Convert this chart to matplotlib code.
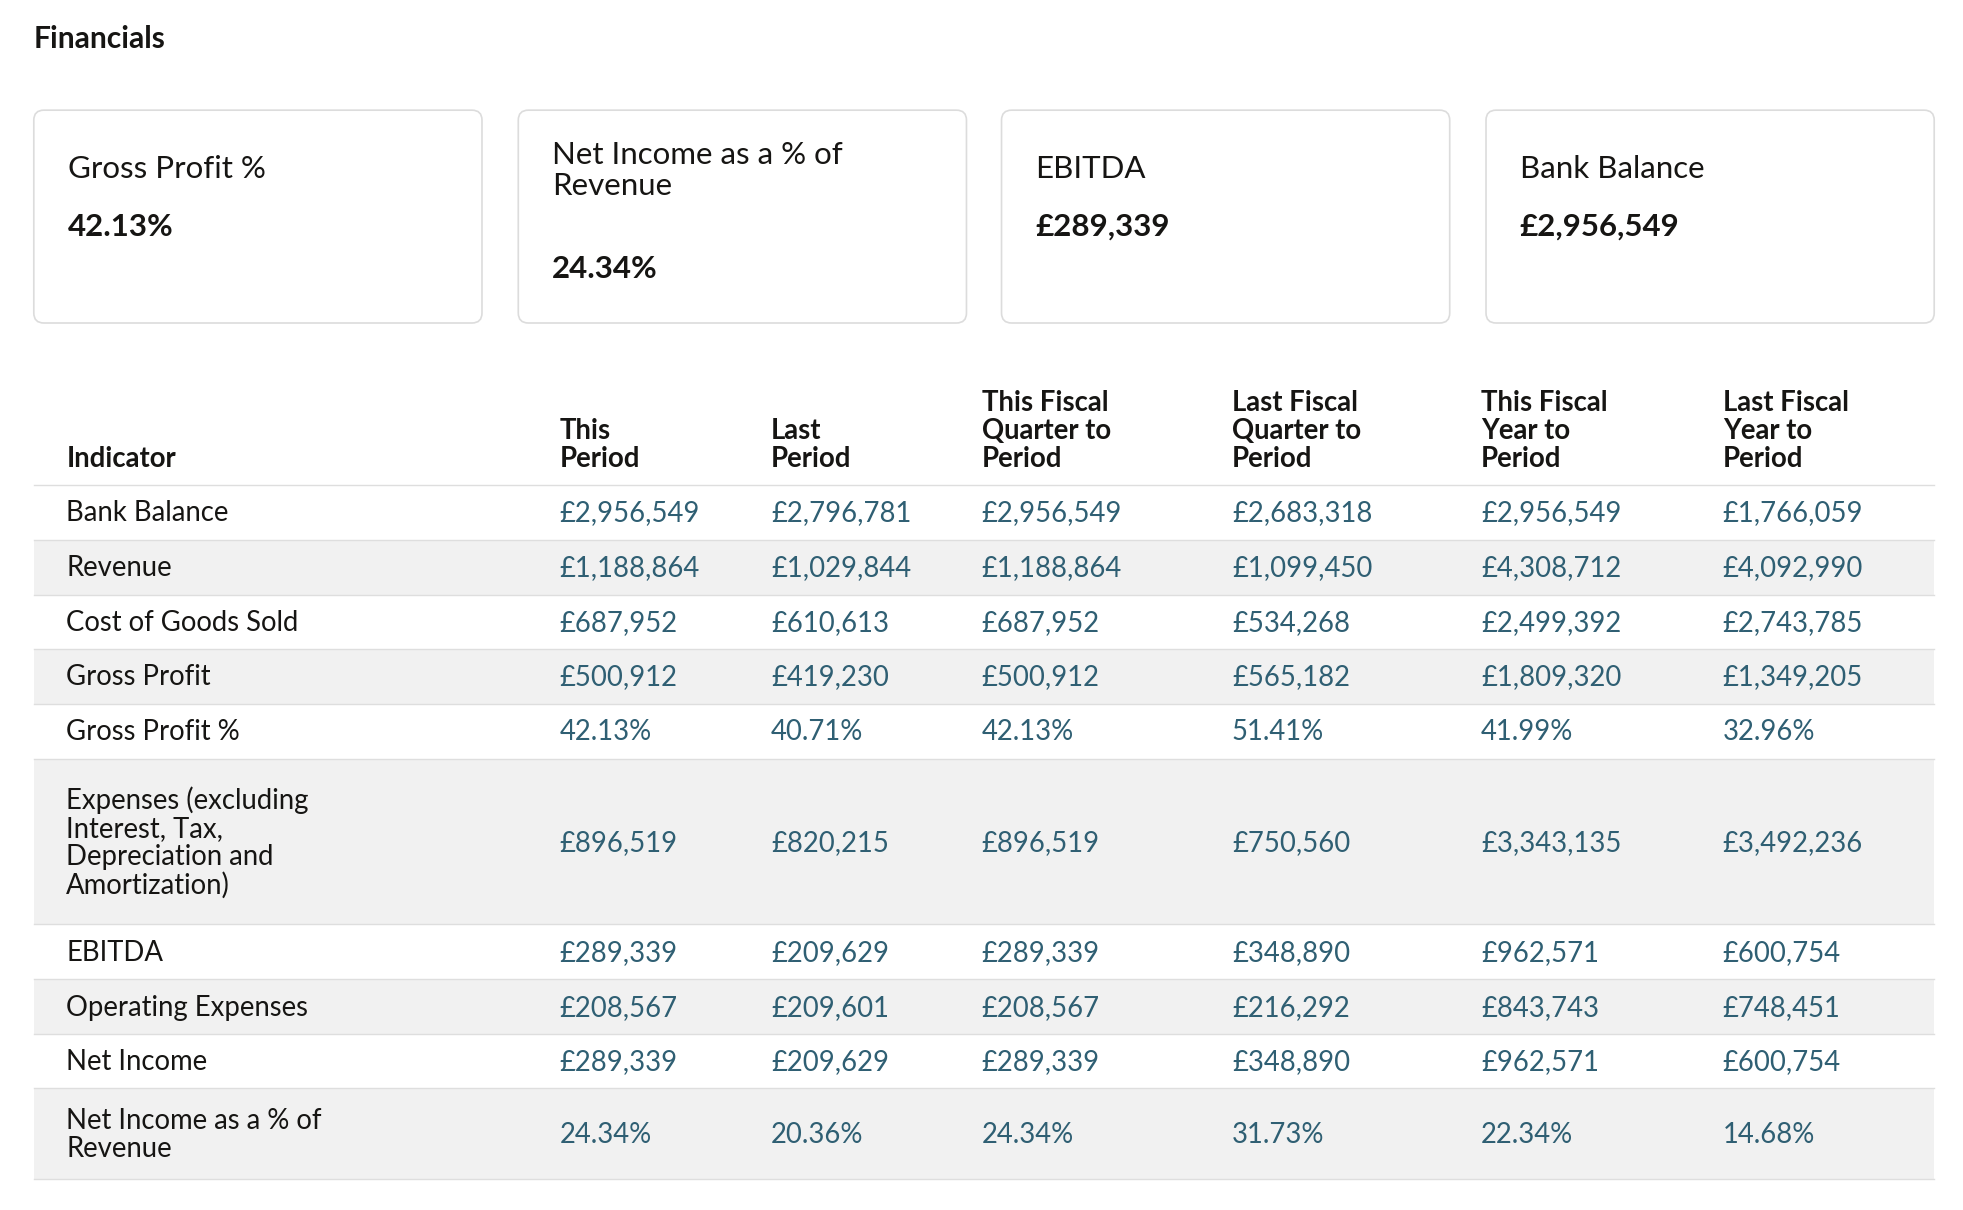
import matplotlib
matplotlib.use('Agg')
import matplotlib.pyplot as plt
from matplotlib.patches import FancyBboxPatch, Rectangle

plt.rcParams['font.family'] = ['Lato', 'DejaVu Sans']

# data
card_titles = ["Gross Profit %", "Net Income as a % of\nRevenue", "EBITDA", "Bank Balance"]
card_values = ["42.13%", "24.34%", "£289,339", "£2,956,549"]
headers = ["Indicator", "This\nPeriod", "Last\nPeriod", "This Fiscal\nQuarter to\nPeriod",
           "Last Fiscal\nQuarter to\nPeriod", "This Fiscal\nYear to\nPeriod", "Last Fiscal\nYear to\nPeriod"]
indicators = ["Bank Balance", "Revenue", "Cost of Goods Sold", "Gross Profit", "Gross Profit %",
              "Expenses (excluding\nInterest, Tax,\nDepreciation and\nAmortization)",
              "EBITDA", "Operating Expenses", "Net Income", "Net Income as a % of\nRevenue"]
values = [
    ["£2,956,549", "£2,796,781", "£2,956,549", "£2,683,318", "£2,956,549", "£1,766,059"],
    ["£1,188,864", "£1,029,844", "£1,188,864", "£1,099,450", "£4,308,712", "£4,092,990"],
    ["£687,952", "£610,613", "£687,952", "£534,268", "£2,499,392", "£2,743,785"],
    ["£500,912", "£419,230", "£500,912", "£565,182", "£1,809,320", "£1,349,205"],
    ["42.13%", "40.71%", "42.13%", "51.41%", "41.99%", "32.96%"],
    ["£896,519", "£820,215", "£896,519", "£750,560", "£3,343,135", "£3,492,236"],
    ["£289,339", "£209,629", "£289,339", "£348,890", "£962,571", "£600,754"],
    ["£208,567", "£209,601", "£208,567", "£216,292", "£843,743", "£748,451"],
    ["£289,339", "£209,629", "£289,339", "£348,890", "£962,571", "£600,754"],
    ["24.34%", "20.36%", "24.34%", "31.73%", "22.34%", "14.68%"],
]

W, H = 1568, 966.5
S = 1963 / W
def pt(px):
    return px * S * 0.72

fig = plt.figure(figsize=(19.63, 12.10), dpi=100)
ax = fig.add_axes([0, 0, 1, 1])
ax.set_xlim(0, W)
ax.set_ylim(H, 0)
ax.axis('off')

ax.text(27, 31, "Financials", fontsize=pt(24), fontweight='bold', va='center', color='#161513')

card_x = [27, 414, 800, 1187]
for x, t, v in zip(card_x, card_titles, card_values):
    ax.add_patch(FancyBboxPatch((x, 88), 358, 170, boxstyle="round,pad=0,rounding_size=8",
                                fc='white', ec='#dcdcdc', lw=1.2))
    ax.text(x + 27, 133, t, fontsize=pt(25), va='center_baseline', color='#161513', linespacing=1.15)
    ax.text(x + 27, 133, t.split('\n')[0], alpha=0)
    vy = 181 if '\n' not in t else 215
    ax.text(x + 27, vy, v, fontsize=pt(25), fontweight='bold', va='center', color='#161513')

col_x = [53, 447, 616, 784, 984, 1183, 1376]
for x, h in zip(col_x, headers):
    ax.text(x, 377, h, fontsize=pt(22), fontweight='bold', va='bottom', color='#161513',
            linespacing=1.1)

borders = [387, 431, 475, 518, 562, 606, 738, 782, 826, 869, 942]
left, right = 27, 1545
for i, name in enumerate(indicators):
    y0, y1 = borders[i], borders[i + 1]
    if i % 2 == 1:
        ax.add_patch(Rectangle((left, y0), right - left, y1 - y0, fc='#f1f1f1', ec='none'))
    yc = (y0 + y1) / 2 + 1
    ax.text(col_x[0], yc, name, fontsize=pt(22), va='center', color='#161513', linespacing=1.1)
    for x, v in zip(col_x[1:], values[i]):
        ax.text(x, yc, v, fontsize=pt(22), va='center', color='#2f5f73')
for y in borders:
    ax.plot([left, right], [y, y], color='#dedede', lw=1)

fig.savefig('out.png', dpi=100, facecolor='white')
